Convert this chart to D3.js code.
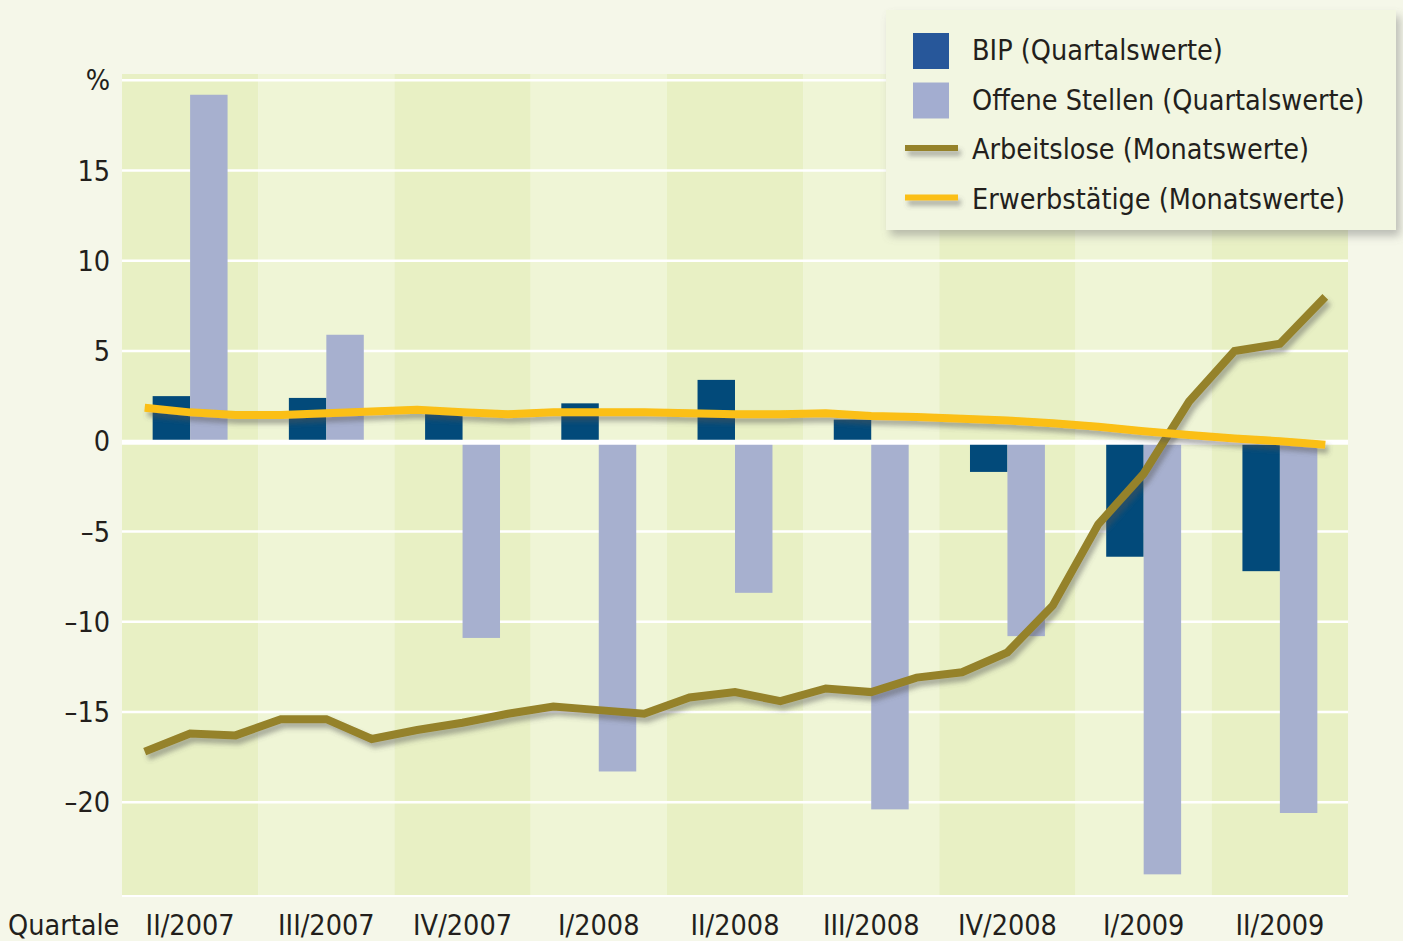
<!DOCTYPE html>
<html>
<head>
<meta charset="utf-8">
<script src="https://cdn.jsdelivr.net/npm/d3@7"></script>
<style>
  html, body { margin: 0; padding: 0; background: #f5f7e9; }
  svg { display: block; }
  text { font-family: "DejaVu Sans Condensed", "Liberation Sans Narrow", sans-serif; fill: #231f1c; }
</style>
</head>
<body>
<script>
// Data
const quarters = ["II/2007", "III/2007", "IV/2007", "I/2008", "II/2008", "III/2008", "IV/2008", "I/2009", "II/2009"];
const bip = [2.5, 2.4, 1.7, 2.1, 3.4, 1.2, -1.7, -6.4, -7.2];
const offeneStellen = [19.2, 5.9, -10.9, -18.3, -8.4, -20.4, -10.8, -24.0, -20.6];

const months = ["2007-04", "2007-05", "2007-06", "2007-07", "2007-08", "2007-09", "2007-10", "2007-11", "2007-12",
                "2008-01", "2008-02", "2008-03", "2008-04", "2008-05", "2008-06", "2008-07", "2008-08", "2008-09",
                "2008-10", "2008-11", "2008-12", "2009-01", "2009-02", "2009-03", "2009-04", "2009-05", "2009-06"];
const arbeitslose = [-17.2, -16.2, -16.3, -15.4, -15.4, -16.5, -16.0, -15.6, -15.1,
                     -14.7, -14.9, -15.1, -14.2, -13.9, -14.4, -13.7, -13.9, -13.1,
                     -12.8, -11.7, -9.1, -4.6, -1.8, 2.2, 5.0, 5.4, 8.0];
const erwerbstaetige = [1.85, 1.6, 1.45, 1.45, 1.55, 1.65, 1.75, 1.6, 1.5,
                        1.6, 1.6, 1.6, 1.55, 1.5, 1.5, 1.55, 1.4, 1.35,
                        1.25, 1.15, 1.0, 0.8, 0.55, 0.35, 0.15, 0.0, -0.2];

const yTicks = [-20, -15, -10, -5, 0, 5, 10, 15];

const legendItems = [
    { label: "BIP (Quartalswerte)", type: "rect", color: "#27579a" },
    { label: "Offene Stellen (Quartalswerte)", type: "rect", color: "#a3add0" },
    { label: "Arbeitslose (Monatswerte)", type: "line", color: "#95822b" },
    { label: "Erwerbstätige (Monatswerte)", type: "line", color: "#fbbf14" }
];

// Dimensions
const W = 1403, H = 941;
const plot = { left: 122, right: 1348, top: 74, bottom: 896 };
const fontSize = 28.5;

const svg = d3.select("body")
    .append("svg")
    .attr("width", W)
    .attr("height", H);

svg.append("rect").attr("width", W).attr("height", H).attr("fill", "#f5f7e9");

// Shadow filters
const defs = svg.append("defs");
const sh = defs.append("filter").attr("id", "lineShadow")
    .attr("filterUnits", "userSpaceOnUse")
    .attr("x", -W).attr("y", -H).attr("width", 3 * W).attr("height", 3 * H);
sh.append("feDropShadow").attr("dx", 3).attr("dy", 5).attr("stdDeviation", 2.5)
    .attr("flood-color", "#555").attr("flood-opacity", 0.45);
const lsh = defs.append("filter").attr("id", "boxShadow")
    .attr("x", "-10%").attr("y", "-10%").attr("width", "120%").attr("height", "130%");
lsh.append("feDropShadow").attr("dx", 4).attr("dy", 6).attr("stdDeviation", 4)
    .attr("flood-color", "#777").attr("flood-opacity", 0.45);

// Scales
const x = d3.scaleBand()
    .domain(quarters)
    .range([plot.left, plot.right]);

const xm = d3.scalePoint()
    .domain(months)
    .range([plot.left, plot.right])
    .padding(0.5);

const y = d3.scaleLinear()
    .domain([-25.2, 20.35])
    .range([plot.bottom, plot.top]);

// Alternating quarter bands
svg.selectAll(".band")
    .data(quarters)
    .enter()
    .append("rect")
    .attr("class", "band")
    .attr("x", d => x(d))
    .attr("y", plot.top)
    .attr("width", x.bandwidth())
    .attr("height", plot.bottom - plot.top)
    .attr("fill", (d, i) => i % 2 === 0 ? "#e8f0c4" : "#eff5d6");

// Grid lines
svg.selectAll(".grid")
    .data(yTicks.filter(t => t !== 0).concat([20]))
    .enter()
    .append("line")
    .attr("class", "grid")
    .attr("x1", plot.left)
    .attr("x2", plot.right)
    .attr("y1", d => y(d))
    .attr("y2", d => y(d))
    .attr("stroke", "#fff")
    .attr("stroke-width", 2.5);

svg.append("line")
    .attr("x1", plot.left).attr("x2", plot.right)
    .attr("y1", plot.bottom).attr("y2", plot.bottom)
    .attr("stroke", "#fff").attr("stroke-width", 2);

// Bars
const barW = x.bandwidth() * 0.275;
const mid = d => x(d) + x.bandwidth() / 2;

svg.selectAll(".bip")
    .data(quarters)
    .enter()
    .append("rect")
    .attr("class", "bip")
    .attr("x", d => mid(d) - barW)
    .attr("y", (d, i) => y(Math.max(0, bip[i])))
    .attr("width", barW)
    .attr("height", (d, i) => Math.abs(y(bip[i]) - y(0)))
    .attr("fill", "#024a7a");

svg.selectAll(".offen")
    .data(quarters)
    .enter()
    .append("rect")
    .attr("class", "offen")
    .attr("x", d => mid(d))
    .attr("y", (d, i) => y(Math.max(0, offeneStellen[i])))
    .attr("width", barW)
    .attr("height", (d, i) => Math.abs(y(offeneStellen[i]) - y(0)))
    .attr("fill", "#a7b0cf");

// Zero line
svg.append("line")
    .attr("x1", plot.left).attr("x2", plot.right)
    .attr("y1", y(0) + 1).attr("y2", y(0) + 1)
    .attr("stroke", "#fff").attr("stroke-width", 5);

// Lines
const line = d3.line()
    .x((d, i) => xm(months[i]))
    .y(d => y(d));

svg.append("path")
    .datum(arbeitslose)
    .attr("d", line)
    .attr("fill", "none")
    .attr("stroke", "#95822b")
    .attr("stroke-width", 8)
    .attr("filter", "url(#lineShadow)");

svg.append("path")
    .datum(erwerbstaetige)
    .attr("d", line)
    .attr("fill", "none")
    .attr("stroke", "#fbbf14")
    .attr("stroke-width", 8)
    .attr("filter", "url(#lineShadow)");

// Y axis labels
svg.selectAll(".ytick")
    .data(yTicks)
    .enter()
    .append("text")
    .attr("class", "ytick")
    .attr("x", 110)
    .attr("y", d => y(d))
    .attr("dy", "0.36em")
    .attr("text-anchor", "end")
    .attr("font-size", fontSize)
    .text(d => d < 0 ? "–" + Math.abs(d) : d);

svg.append("text")
    .attr("x", 110)
    .attr("y", 90)
    .attr("text-anchor", "end")
    .attr("font-size", fontSize)
    .text("%");

// X axis labels
svg.selectAll(".xtick")
    .data(quarters)
    .enter()
    .append("text")
    .attr("class", "xtick")
    .attr("x", d => mid(d))
    .attr("y", 935)
    .attr("text-anchor", "middle")
    .attr("font-size", fontSize)
    .text(d => d);

svg.append("text")
    .attr("x", 8)
    .attr("y", 935)
    .attr("font-size", fontSize)
    .text("Quartale");

// Legend
const lg = svg.append("g").attr("transform", "translate(886,10)");
lg.append("rect")
    .attr("width", 510)
    .attr("height", 220)
    .attr("fill", "#f2f6e1")
    .attr("filter", "url(#boxShadow)");

const items = lg.selectAll(".item")
    .data(legendItems)
    .enter()
    .append("g")
    .attr("transform", (d, i) => `translate(0,${40 + i * 49.5})`);

items.filter(d => d.type === "rect")
    .append("rect")
    .attr("x", 27)
    .attr("y", -17)
    .attr("width", 36)
    .attr("height", 36)
    .attr("fill", d => d.color);

items.filter(d => d.type === "line")
    .append("rect")
    .attr("x", 19)
    .attr("y", -4)
    .attr("width", 53)
    .attr("height", 6)
    .attr("fill", d => d.color)
    .attr("filter", "url(#lineShadow)");

items.append("text")
    .attr("x", 86)
    .attr("y", 0)
    .attr("dy", "0.36em")
    .attr("font-size", fontSize)
    .text(d => d.label);
</script>
</body>
</html>
